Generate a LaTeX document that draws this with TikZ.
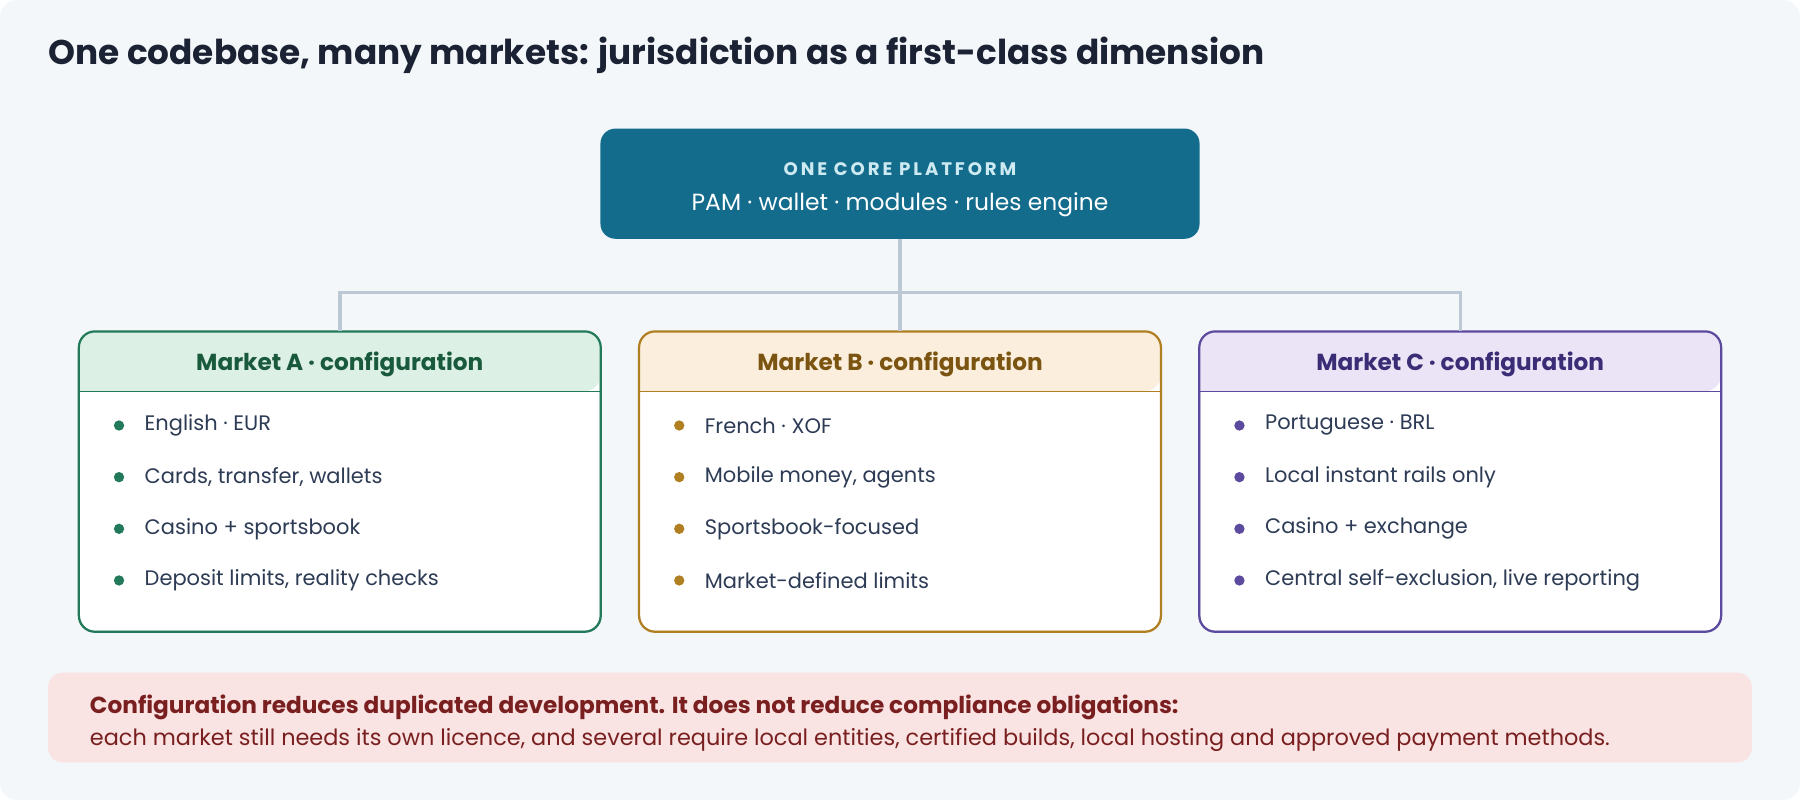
\documentclass[tikz,border=0pt]{standalone}
\usepackage{fontspec}
\setmainfont{Poppins}
\usetikzlibrary{positioning}

\definecolor{pagebg}{HTML}{F4F7FA}
\definecolor{ink}{HTML}{1B2233}
\definecolor{textc}{HTML}{2D3B55}
\definecolor{corefill}{HTML}{136C8C}
\definecolor{corecap}{HTML}{CDEAF2}
\definecolor{wire}{HTML}{BCC8D4}
\definecolor{aline}{HTML}{237A5A}\definecolor{afill}{HTML}{DDF0E6}\definecolor{atext}{HTML}{1A5A3C}
\definecolor{bline}{HTML}{B07F22}\definecolor{bfill}{HTML}{FBEEDC}\definecolor{btext}{HTML}{7A5410}
\definecolor{cline}{HTML}{5B4A9E}\definecolor{cfill}{HTML}{EAE4F6}\definecolor{ctext}{HTML}{3A2C75}
\definecolor{notefill}{HTML}{F9E3E3}
\definecolor{notetext}{HTML}{7A1F1F}

% one market card: name, x centre, colour prefix, title, four items
\newcommand\marketcard[8]{%
  \node[card, draw=#3line] (#1) at (#2,419.5) {};
  \fill[#3fill] ([yshift=-1.04cm]#1.north west) [rounded corners=0.28cm] |- (#1.north)
     -| ([yshift=-1.04cm]#1.north east) [sharp corners] -- cycle;
  \draw[#3line, line width=0.5pt] ([yshift=-1.04cm]#1.north west) -- ([yshift=-1.04cm]#1.north east);
  \draw[#3line, line width=1.1pt, rounded corners=0.28cm] (#1.north west) rectangle (#1.south east);
  \node[cardtitle, text=#3text] (#1-title) at ([yshift=-0.58cm]#1.north) {#4};
  \foreach \item [count=\i] in {{#5},{#6},{#7},{#8}} {
    \fill[#3line] ([xshift=0.7cm, yshift=-1.64cm-(\i-1)*0.9cm]#1.north west) circle (0.09cm);
    \node[item] (#1-\i) at ([xshift=1.14cm, yshift=-1.64cm-(\i-1)*0.9cm]#1.north west) {\item};
  }
}

\begin{document}
\begin{tikzpicture}[x=0.02cm, y=-0.02cm,
    card/.style={rectangle, rounded corners=0.28cm, fill=white, minimum width=9.08cm, minimum height=5.22cm},
    cardtitle/.style={font=\fontsize{11.5}{13}\selectfont\bfseries},
    item/.style={anchor=west, inner sep=0pt, text=textc, font=\fontsize{10.4}{12}\selectfont},
    wires/.style={wire, line width=1.7pt},
    noteline/.style={anchor=west, inner sep=0pt, text=notetext},
  ]
  \fill[pagebg, rounded corners=0.3cm] (0,0) rectangle (1568,697);
  \useasboundingbox (0,0) rectangle (1568,697);

  \node[anchor=west, inner sep=0pt, text=ink, font=\fontsize{17}{20}\selectfont\bfseries] (title) at (42,48)
    {One codebase, many markets: jurisdiction as a first-class dimension};

  \node[rectangle, rounded corners=0.26cm, fill=corefill, minimum width=10.44cm, minimum height=1.92cm] (core) at (784,160) {};
  \node[text=corecap, font=\fontsize{9}{10}\selectfont\bfseries, inner sep=0pt] (core-cap) at (784,147)
    {\addfontfeature{LetterSpace=16}ONE CORE PLATFORM};
  \node[text=white, font=\fontsize{11.6}{13}\selectfont, inner sep=0pt] (core-text) at (784,178)
    {PAM · wallet · modules · rules engine};

  \marketcard{mktA}{296}{a}{Market A · configuration}{English · EUR}{Cards, transfer, wallets}{Casino + sportsbook}{Deposit limits, reality checks}
  \marketcard{mktB}{784}{b}{Market B · configuration}{French · XOF}{Mobile money, agents}{Sportsbook-focused}{Market-defined limits}
  \marketcard{mktC}{1272}{c}{Market C · configuration}{Portuguese · BRL}{Local instant rails only}{Casino + exchange}{Central self-exclusion, live reporting}

  \coordinate (split) at (784,255);
  \draw[wires] (core.south) -- (mktB.north);
  \draw[wires] (split) -| (mktA.north);
  \draw[wires] (split) -| (mktC.north);

  \fill[notefill, rounded corners=0.24cm] (42,586) rectangle (1526,664);
  \node[noteline, font=\fontsize{11.5}{13}\selectfont\bfseries] (note-1) at (78,616)
    {Configuration reduces duplicated development. It does not reduce compliance obligations:};
  \node[noteline, font=\fontsize{11.1}{13}\selectfont] (note-2) at (78,645)
    {each market still needs its own licence, and several require local entities, certified builds, local hosting and approved payment methods.};
\end{tikzpicture}
\end{document}
